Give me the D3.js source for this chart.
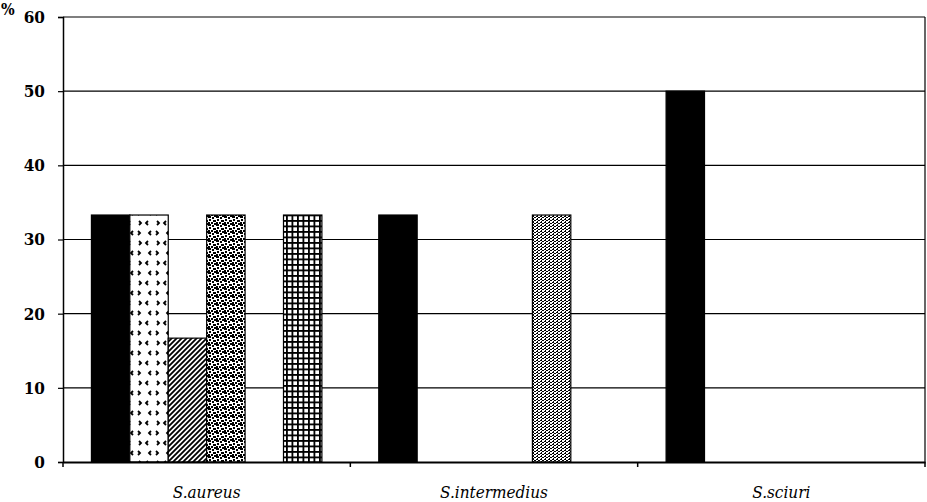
<!DOCTYPE html>
<html><head><meta charset="utf-8">
<script src="https://cdn.jsdelivr.net/npm/d3@7"></script>
<style>body{margin:0;background:#fff}svg{display:block}
.serif{font-family:"DejaVu Serif Condensed","DejaVu Serif",serif !important;font-stretch:condensed;}
</style>
</head><body>
<script>
const categories = ["S.aureus", "S.intermedius", "S.sciuri"];
const seriesNames = ["s1", "s2", "s3", "s4", "s5", "s6"];
const series1 = [33.3, 33.3, 50];
const series2 = [33.3, 0, 0];
const series3 = [16.7, 0, 0];
const series4 = [33.3, 0, 0];
const series5 = [0, 33.3, 0];
const series6 = [33.3, 0, 0];
const yTicks = [0, 10, 20, 30, 40, 50, 60];
const allSeries = [series1, series2, series3, series4, series5, series6];

const W = 927, H = 502;
const L = 63, R = 925, T = 17, B = 462;
const svg = d3.select("body").append("svg").attr("width", W).attr("height", H);
const defs = svg.append("defs");

function pat(id, w, h) {
  const p = defs.append("pattern").attr("id", id).attr("patternUnits", "userSpaceOnUse")
    .attr("width", w).attr("height", h);
  p.append("rect").attr("width", w).attr("height", h).attr("fill", "#fff");
  return p;
}
// series 2: sparse marks
{
  const p = pat("p2", 18, 20);
  const marks = [[[4,1],[2,3],[4,5]], [[12,11],[14,13],[12,15]], [[13,1],[15,3],[13,5]], [[7,11],[5,13],[7,15]]];
  marks.forEach(m => p.append("path").attr("d", "M" + m.map(q => q.join(",")).join(" L"))
    .attr("stroke", "#000").attr("stroke-width", 1.8).attr("fill", "none"));
}
// series 3: diagonal stripes
{
  const p = pat("p3", 5, 5);
  p.append("path").attr("d", "M-1,6 L6,-1 M-1,1 L1,-1 M4,6 L6,4").attr("stroke", "#000").attr("stroke-width", 1.8);
}
// series 4: dense blocks
{
  const p = pat("p4", 8, 8);
  [[0,0,3,2],[4,1,2,2],[6,0,2,1],[1,3,2,2],[5,4,3,2],[0,6,2,2],[3,6,2,2],[6,7,2,1]].forEach(r =>
    p.append("rect").attr("x", r[0]).attr("y", r[1]).attr("width", r[2]).attr("height", r[3]).attr("fill", "#000"));
}
// series 5: fine dots
{
  const p = pat("p5", 4, 3);
  [[0,0,2,1],[2,1,2,1],[1,2,1,1]].forEach(r =>
    p.append("rect").attr("x", r[0]).attr("y", r[1]).attr("width", r[2]).attr("height", r[3]).attr("fill", "#000"));
}
// series 6: grid
{
  const p = pat("p6", 5.5, 5.5);
  p.append("rect").attr("x", 0).attr("y", 0).attr("width", 5.5).attr("height", 1.8).attr("fill", "#000");
  p.append("rect").attr("x", 0).attr("y", 0).attr("width", 1.8).attr("height", 5.5).attr("fill", "#000");
}
const fills = ["#000", "url(#p2)", "url(#p3)", "url(#p4)", "url(#p5)", "url(#p6)"];

const x0 = d3.scaleBand().domain(categories).range([L, R]).padding(0);
const x1 = d3.scaleBand().domain(seriesNames).range([0, x0.bandwidth()]).paddingInner(0).paddingOuter(0.74);
const y = d3.scaleLinear().domain([0, 60]).range([B, T]);

svg.append("g").selectAll("line").data(yTicks.filter(d => d > 0)).join("line")
  .attr("x1", L).attr("x2", R).attr("y1", d => y(d)).attr("y2", d => y(d))
  .attr("stroke", "#000").attr("stroke-width", 1.2);
svg.append("line").attr("x1", R).attr("x2", R).attr("y1", T).attr("y2", B).attr("stroke", "#000").attr("stroke-width", 1.2);

const g = svg.append("g");
categories.forEach((c, ci) => {
  allSeries.forEach((s, si) => {
    const v = s[ci];
    if (v <= 0) return;
    g.append("rect")
      .attr("x", x0(c) + x1(seriesNames[si]))
      .attr("y", y(v))
      .attr("width", x1.bandwidth())
      .attr("height", y(0) - y(v))
      .attr("fill", fills[si])
      .attr("stroke", "#000").attr("stroke-width", 1.2);
  });
});

const yAxis = d3.axisLeft(y).tickValues(yTicks).tickSize(5).tickPadding(13).tickFormat(d3.format("d"));
const ya = svg.append("g").attr("transform", `translate(${L},0)`).call(yAxis);
ya.attr("font-family", null);
ya.select(".domain").attr("stroke-width", 1.5);
ya.selectAll(".tick line").attr("stroke-width", 1.2);
ya.selectAll("text").attr("class", "serif")
  .style("font-size", "17px").style("font-weight", "bold").attr("fill", "#000");

const xAxis = d3.axisBottom(x0).tickSize(0).tickFormat("");
const xa = svg.append("g").attr("transform", `translate(0,${B})`).call(xAxis);
xa.select(".domain").attr("stroke-width", 2);
svg.append("g").selectAll("line").data(categories).join("line")
  .attr("x1", d => x0(d) + x0.bandwidth()).attr("x2", d => x0(d) + x0.bandwidth())
  .attr("y1", B).attr("y2", B + 5).attr("stroke", "#000").attr("stroke-width", 1.5);
svg.append("line").attr("x1", L).attr("x2", L).attr("y1", B).attr("y2", B + 5).attr("stroke", "#000").attr("stroke-width", 1.5);

svg.append("g").selectAll("text").data(categories).join("text")
  .attr("class", "serif")
  .attr("x", d => x0(d) + x0.bandwidth() / 2).attr("y", 498)
  .attr("text-anchor", "middle")
  .style("font-style", "italic").style("font-size", "17px").attr("fill", "#000")
  .text(d => d);

svg.append("text").attr("class", "serif").attr("x", 1).attr("y", 15)
  .style("font-size", "16px").style("font-weight", "bold").attr("fill", "#000").text("%");
</script>
</body></html>
